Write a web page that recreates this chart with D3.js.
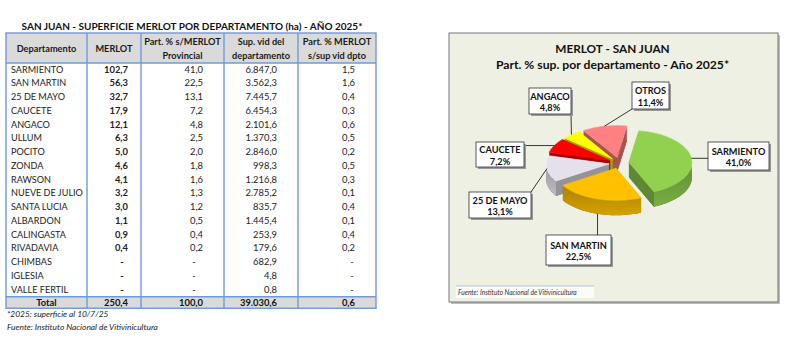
<!DOCTYPE html>
<html><head><meta charset="utf-8">
<script src="https://cdn.jsdelivr.net/npm/d3@7"></script>
<style>
html,body{margin:0;padding:0;background:#fff;}
svg{display:block;font-family:Lato, "Open Sans", sans-serif;}
</style></head>
<body>
<svg id="c" width="790" height="340"></svg>
<script>
// ---------- DATA ----------
const tableTitle = "SAN JUAN - SUPERFICIE MERLOT POR DEPARTAMENTO (ha) - AÑO 2025*";
const headers = [["Departamento"],["MERLOT"],["Part. % s/MERLOT","Provincial"],["Sup. vid del","departamento"],["Part. % MERLOT","s/sup vid dpto"]];
const departamentos = ["SARMIENTO","SAN MARTIN","25 DE MAYO","CAUCETE","ANGACO","ULLUM","POCITO","ZONDA","RAWSON","NUEVE DE JULIO","SANTA LUCIA","ALBARDON","CALINGASTA","RIVADAVIA","CHIMBAS","IGLESIA","VALLE FERTIL"];
const merlot = [102.7,56.3,32.7,17.9,12.1,6.3,5.0,4.6,4.1,3.2,3.0,1.1,0.9,0.4,null,null,null];
const partProvincial = [41.0,22.5,13.1,7.2,4.8,2.5,2.0,1.8,1.6,1.3,1.2,0.5,0.4,0.2,null,null,null];
const supVid = [6847.0,3562.3,7445.7,6454.3,2101.6,1370.3,2846.0,998.3,1216.8,2785.2,835.7,1445.4,253.9,179.6,682.9,4.8,0.8];
const partDpto = [1.5,1.6,0.4,0.3,0.6,0.5,0.2,0.5,0.3,0.1,0.4,0.1,0.4,0.2,null,null,null];
const totalLabel = "Total";
const totales = [250.4, 100.0, 39030.6, 0.6];
const notes = ["*2025: superficie al 10/7/25", "Fuente: Instituto Nacional de Vitivinicultura"];

const pieTitle = ["MERLOT - SAN JUAN", "Part. % sup. por departamento - Año 2025*"];
const pieLabels = ["SARMIENTO","SAN MARTIN","25 DE MAYO","CAUCETE","ANGACO","OTROS"];
const pieValues = [41.0,22.5,13.1,7.2,4.8,11.4];
const pieColors = ["#92d050","#ffc000","#e4e0ec","#ff0000","#ffff00","#ff8080"];
const pieSource = "Fuente: Instituto Nacional de Vitivinicultura";

// ---------- SETUP ----------
const svg = d3.select("#c");
const loc = d3.formatLocale({decimal:",", thousands:".", grouping:[3], currency:["$",""]});
const f1 = loc.format(",.1f");
const defs = svg.append("defs");

// ---------- TABLE ----------
const tL = 6, tR = 376, tTop = 33, hdrH = 30;
const colEdges = [6, 87, 141, 224, 298, 376];
const blue = "#6f9ad6";
const rowY = d3.scaleBand().domain(d3.range(departamentos.length)).range([tTop+hdrH, tTop+hdrH+departamentos.length*13.75]);
const totTop = rowY.range()[1], totBot = totTop + 11.5;
const nameFs = 9.1, numFs = 9.4;

svg.append("text").attr("x", 192).attr("y", 30).attr("text-anchor","middle")
  .attr("font-size", 10).attr("font-weight", 700).attr("fill","#111").text(tableTitle);

const tbl = svg.append("g");
tbl.append("rect").attr("x",tL).attr("y",tTop).attr("width",tR-tL).attr("height",hdrH).attr("fill","#dadada");
tbl.append("rect").attr("x",tL).attr("y",totTop).attr("width",tR-tL).attr("height",totBot-totTop).attr("fill","#dadada");

headers.forEach((h,i)=>{
  const cx = (colEdges[i]+colEdges[i+1])/2;
  const t = tbl.append("text").attr("x",cx).attr("text-anchor","middle").attr("font-size",9.2).attr("font-weight",700).attr("fill","#1a1a1a");
  if (h.length===1) t.attr("y", tTop+hdrH/2+3.5).text(h[0]);
  else { t.append("tspan").attr("x",cx).attr("y",tTop+12).text(h[0]);
         t.append("tspan").attr("x",cx).attr("y",tTop+25.5).text(h[1]); }
});

const cols = [merlot, partProvincial, supVid, partDpto];
const rightX = [128, 203, 277, 355];
const dashX = [122, 194, 277, 352];
departamentos.forEach((d,i)=>{
  const y = rowY(i) + 9.5;
  tbl.append("text").attr("x",11).attr("y",y).attr("font-size",nameFs).attr("fill","#222").text(d);
  cols.forEach((arr,j)=>{
    const v = arr[i];
    const t = tbl.append("text").attr("y",y).attr("font-size",numFs).attr("fill","#222");
    if (j===0) t.attr("font-weight",700);
    if (v===null) t.attr("x",dashX[j]).attr("text-anchor","middle").text("-");
    else t.attr("x",rightX[j]).attr("text-anchor","end").text(f1(v));
  });
});
const ty = totTop + 9;
tbl.append("text").attr("x",(colEdges[0]+colEdges[1])/2).attr("y",ty).attr("text-anchor","middle").attr("font-size",numFs).attr("font-weight",700).attr("fill","#111").text(totalLabel);
totales.forEach((v,j)=>{
  tbl.append("text").attr("x",rightX[j]).attr("y",ty).attr("text-anchor","end").attr("font-size",numFs).attr("font-weight",700).attr("fill","#111").text(f1(v));
});
const lines = tbl.append("g").attr("stroke",blue).attr("stroke-width",1.4).attr("fill","none");
lines.append("rect").attr("x",tL).attr("y",tTop).attr("width",tR-tL).attr("height",totBot-tTop);
colEdges.slice(1,-1).forEach(x=>lines.append("line").attr("x1",x).attr("x2",x).attr("y1",tTop).attr("y2",totBot));
lines.append("line").attr("x1",tL).attr("x2",tR).attr("y1",tTop+hdrH).attr("y2",tTop+hdrH);
lines.append("line").attr("x1",tL).attr("x2",tR).attr("y1",totTop).attr("y2",totTop);

svg.append("text").attr("x",7).attr("y",317).attr("font-size",8.4).attr("font-style","italic").attr("fill","#222").text(notes[0]);
svg.append("text").attr("x",7).attr("y",330).attr("font-size",8.4).attr("font-style","italic").attr("fill","#222").text(notes[1]);

// ---------- PIE PANEL ----------
const pL = 449, pT = 33, pR = 778, pB = 302;
svg.append("rect").attr("x",pL+2).attr("y",pT+2).attr("width",pR-pL).attr("height",pB-pT).attr("fill","#bbb");
svg.append("rect").attr("x",pL).attr("y",pT).attr("width",pR-pL).attr("height",pB-pT).attr("fill","#edf0e2").attr("stroke","#777").attr("stroke-width",1);
const pcx = (pL+pR)/2 - 1;
svg.append("text").attr("x",pcx).attr("y",53).attr("text-anchor","middle").attr("font-size",11.8).attr("font-weight",700).attr("fill","#111").text(pieTitle[0]);
svg.append("text").attr("x",pcx).attr("y",69).attr("text-anchor","middle").attr("font-size",12.2).attr("font-weight",700).attr("fill","#111").text(pieTitle[1]);

svg.append("rect").attr("x",456).attr("y",286).attr("width",138).attr("height",12).attr("fill","#fbfcf8");
svg.append("line").attr("x1",456).attr("x2",594).attr("y1",286).attr("y2",286).attr("stroke","#a9c4e4").attr("stroke-width",1);
svg.append("text").attr("x",458).attr("y",295).attr("font-size",6.6).attr("font-style","italic").attr("fill","#333").text(pieSource);

// 3D pie
const cx = 619, cy = 163, rx = 63, ry = 32, depth = 15, explode = 10;
const rad = Math.PI/180;
const arcs = d3.pie().sort(null).startAngle(9*rad).endAngle(369*rad)(pieValues);
const color = d3.scaleOrdinal().domain(pieLabels).range(pieColors);

function P(c, th, r=1, dz=0){ return [c[0] + rx*r*Math.sin(th), c[1] - ry*r*Math.cos(th) + dz]; }
function arcPts(c, a0, a1, dz=0){
  const n = Math.max(2, Math.ceil(Math.abs(a1-a0)/(2*rad)));
  return d3.range(n+1).map(k=>P(c, a0+(a1-a0)*k/n, 1, dz));
}
const line = d3.line();
const pieG = svg.append("g");
const slices = arcs.map((a,i)=>{
  const mid = (a.startAngle+a.endAngle)/2;
  const c = [cx + explode*Math.sin(mid), cy - explode*Math.cos(mid)*0.55];
  return {a, i, mid, c, label: pieLabels[i]};
});
const order = slices.slice().sort((p,q)=>Math.cos(q.mid)-Math.cos(p.mid));
order.forEach(s=>{
  const col = d3.color(color(s.label));
  const side = col.darker(1.2).formatHex();
  const sideDark = col.darker(1.7).formatHex();
  const g = pieG.append("g");
  const a0 = s.a.startAngle, a1 = s.a.endAngle;
  const c = s.c, cb = [c[0], c[1]+depth];
  g.append("path").attr("d", line([cb, ...arcPts(c,a0,a1,depth)]) + "Z").attr("fill", sideDark);
  const wall = (th)=> line([c, P(c,th), P(c,th,1,depth), cb]) + "Z";
  const startFront = Math.sin(a0) < 0, endFront = Math.sin(a1) > 0;
  if (!startFront) g.append("path").attr("d",wall(a0)).attr("fill",sideDark);
  if (!endFront) g.append("path").attr("d",wall(a1)).attr("fill",sideDark);
  if (startFront) g.append("path").attr("d",wall(a0)).attr("fill",side);
  if (endFront) g.append("path").attr("d",wall(a1)).attr("fill",side);
  for (let k=0;k<2;k++){
    const lo = Math.max(a0, (90+360*k)*rad), hi = Math.min(a1, (270+360*k)*rad);
    if (hi > lo){
      const gid = "g"+s.i+"_"+k;
      const lg = defs.append("linearGradient").attr("id",gid).attr("x1","0").attr("x2","0").attr("y1","0").attr("y2","1");
      lg.append("stop").attr("offset","0").attr("stop-color", col.darker(1.1).formatHex());
      lg.append("stop").attr("offset","1").attr("stop-color", col.darker(0.5).formatHex());
      const top = arcPts(c, lo, hi), bot = arcPts(c, lo, hi, depth).reverse();
      g.append("path").attr("d", line([...top, ...bot]) + "Z").attr("fill", `url(#${gid})`);
    }
  }
  g.append("path").attr("d", line([c, ...arcPts(c,a0,a1)]) + "Z").attr("fill", col.formatHex())
    .attr("stroke", col.brighter(0.3).formatHex()).attr("stroke-width",0.6);
});

const labelBoxes = [
  {x:708,y:142,w:61,h:28, anchorDz:0},
  {x:546,y:235,w:65,h:30, anchorDz:15},
  {x:469,y:192,w:62,h:26, anchorDz:0},
  {x:476,y:142,w:48,h:25, anchorDz:0},
  {x:529,y:88,w:42,h:26, anchorDz:0},
  {x:632,y:82,w:37,h:27, anchorDz:0}
];
const labG = svg.append("g");
slices.forEach(s=>{
  const b = labelBoxes[s.i];
  const an = P(s.c, s.mid, 1, b.anchorDz);
  const lx = Math.max(b.x, Math.min(b.x+b.w, an[0])), ly = Math.max(b.y, Math.min(b.y+b.h, an[1]));
  labG.append("line").attr("x1",lx).attr("y1",ly).attr("x2",an[0]).attr("y2",an[1]).attr("stroke","#222").attr("stroke-width",0.9);
  labG.append("rect").attr("x",b.x+2).attr("y",b.y+2).attr("width",b.w).attr("height",b.h).attr("fill","#999");
  labG.append("rect").attr("x",b.x).attr("y",b.y).attr("width",b.w).attr("height",b.h).attr("fill","#fff").attr("stroke","#333").attr("stroke-width",0.8);
  const t = labG.append("text").attr("text-anchor","middle").attr("font-size",9.2).attr("font-weight",700).attr("fill","#111");
  const mx = b.x + b.w/2;
  t.append("tspan").attr("x",mx).attr("y",b.y + b.h/2 - 1.5).text(s.label);
  t.append("tspan").attr("x",mx).attr("y",b.y + b.h/2 + 10).text(f1(pieValues[s.i]) + "%");
});
</script>
</body></html>
